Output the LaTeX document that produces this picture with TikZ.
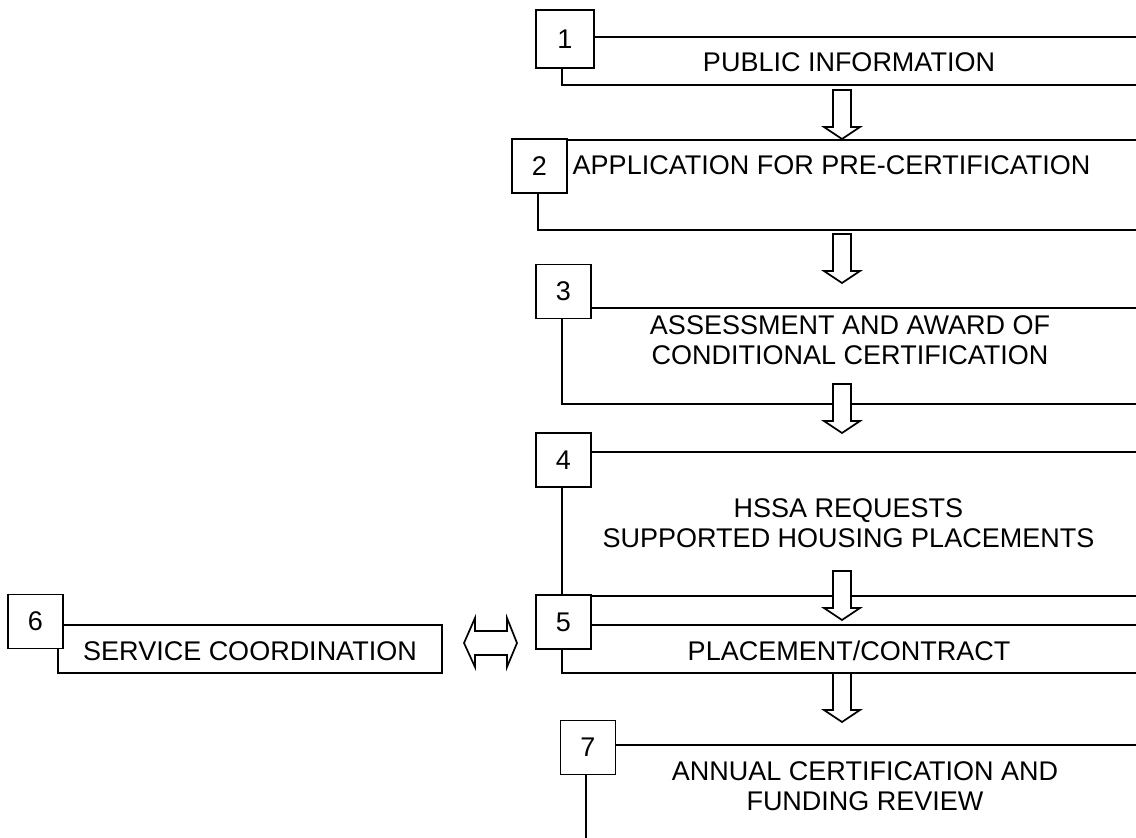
\documentclass[tikz,border=0pt]{standalone}
\usepackage{fontspec}
\setmainfont{Liberation Sans}
\usetikzlibrary{calc}
\def\blockarrow(#1){\draw[blockarr] ($(#1)+(-9,0)$) -- ++(0,37) -- ++(-9,0) -- ++(18,12) -- ++(18,-12) -- ++(-9,0) -- ++(0,-37) -- cycle;}
\tikzset{
	frame/.style={draw, line width=1.7pt, inner sep=0pt, anchor=north west},
	numbox/.style={draw, fill=white, line width=1.7pt, inner sep=0pt, minimum width=55pt, minimum height=54pt, text depth=0pt, font=\fontsize{27}{30}\selectfont},
	steptext/.style={align=center, inner sep=0pt, text depth=0pt, font=\fontsize{27}{30}\selectfont},
	blockarr/.style={draw, fill=white, line width=1.7pt, line join=miter},
}

\begin{document}
\begin{tikzpicture}[x=1pt, y=-1pt]
		%%%%% START %%%%%
		
		\useasboundingbox (0, 0) rectangle (1136, 838);
		\fill[white] (0, 0) rectangle (1136, 838);
		\clip (0, 0) rectangle (1136, 838);
		
		\node[frame, minimum width=577pt, minimum height=48pt] (f1) at (561, 36) {};
		\node[frame, minimum width=601pt, minimum height=90pt] (f2) at (537, 139) {};
		\node[frame, minimum width=577pt, minimum height=96pt] (f3) at (561, 307) {};
		\node[frame, minimum width=577pt, minimum height=144pt] (f4) at (561, 451) {};
		\node[frame, minimum width=577pt, minimum height=48pt] (f5) at (561, 624) {};
		\node[frame, minimum width=384pt, minimum height=48pt] (f6) at (57, 624) {};
		\node[frame, minimum width=553pt, minimum height=120pt] (f7) at (585, 744) {};
		
		\node[numbox, minimum width=58pt, minimum height=58pt] (n1) at (565, 39) {1};
		\node[numbox] (n2) at (539.5, 166) {2};
		\node[numbox] (n3) at (563.5, 291.5) {3};
		\node[numbox] (n4) at (563.5, 460) {4};
		\node[numbox] (n5) at (563.5, 622) {5};
		\node[numbox] (n6) at (35.5, 621.5) {6};
		\node[numbox] (n7) at (588, 747.5) {7};
		
		\node[steptext] (t1) at (849, 62.5) {PUBLIC INFORMATION};
		\node[steptext] (t2) at (831.5, 165.5) {APPLICATION FOR PRE-CERTIFICATION};
		\node[steptext] (t3) at (850, 340) {ASSESSMENT AND AWARD OF\\CONDITIONAL CERTIFICATION};
		\node[steptext] (t4) at (848.5, 523.5) {HSSA REQUESTS\\SUPPORTED HOUSING PLACEMENTS};
		\node[steptext] (t5) at (849, 651) {PLACEMENT/CONTRACT};
		\node[steptext] (t6) at (250, 651) {SERVICE COORDINATION};
		\node[steptext] (t7) at (865, 786.5) {ANNUAL CERTIFICATION AND\\FUNDING REVIEW};
		
		\coordinate (a1) at (842, 90);
		\coordinate (a2) at (842, 234);
		\coordinate (a3) at (842, 384);
		\coordinate (a4) at (842, 571);
		\coordinate (a5) at (842, 673);
		\blockarrow(a1);
		\blockarrow(a2);
		\blockarrow(a3);
		\blockarrow(a4);
		\blockarrow(a5);
		
		\coordinate (dl) at (464, 643);
		\coordinate (dr) at (517, 643);
		\draw[blockarr] (dl) -- ++(11, -25) -- ++(0, 13) -- ++(32, 0) -- ++(0, -13) -- (dr)
			-- ++(-10, 24) -- ++(0, -12) -- ++(-32, 0) -- ++(0, 12) -- cycle;
		
		%%%%% END %%%%%
\end{tikzpicture}
\end{document}
